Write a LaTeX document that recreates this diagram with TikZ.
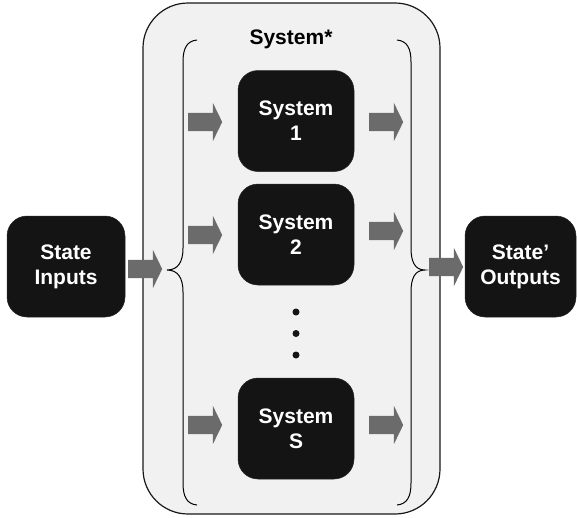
\documentclass[tikz,border=0pt]{standalone}
\usepackage{fontspec}
\setmainfont{Liberation Sans}
\usetikzlibrary{shapes.arrows}
\definecolor{panel}{HTML}{F1F1F1}
\definecolor{boxfill}{HTML}{141414}
\definecolor{arrowgray}{HTML}{6B6B6B}
\tikzset{
  blk/.style={fill=boxfill, draw=black!85, line width=0.5pt, rounded corners=20pt,
    minimum width=116pt, minimum height=101pt, text=white, align=center, inner sep=0pt,
    font=\bfseries\fontsize{21}{25}\selectfont},
  blockarrow/.style={single arrow, fill=arrowgray, draw=none, minimum height=34pt,
    inner sep=0pt, inner ysep=9pt, single arrow head extend=10pt,
    single arrow tip angle=128, anchor=tail},
  bracepath/.style={line width=1pt, black},
  dotmark/.style={circle, fill=boxfill, inner sep=0pt, minimum size=7pt},
}
\begin{document}
\begin{tikzpicture}[x=1pt, y=-1pt]
  \useasboundingbox (0,0) rectangle (577,517);

  % outer container
  \node[draw=black!90, line width=1.2pt, fill=panel, rounded corners=45pt,
        minimum width=297pt, minimum height=511pt, inner sep=0pt] (sys) at (291.5,258.5) {};
  \node[font=\bfseries\fontsize{21}{25}\selectfont] (syslabel) at (291,39) {System*};

  % braces
  \draw[bracepath] (197,40) .. controls (187,41) and (183,48) .. (183,62)
    -- (183,248) .. controls (183,262) and (178,270) .. (167,270)
    .. controls (178,270) and (183,278) .. (183,292)
    -- (183,483) .. controls (183,497) and (187,504) .. (197,505);
  \draw[bracepath] (397,40) .. controls (407,41) and (411,48) .. (411,62)
    -- (411,248) .. controls (411,262) and (415,270) .. (425,270)
    .. controls (415,270) and (411,278) .. (411,292)
    -- (411,483) .. controls (411,497) and (407,504) .. (397,505);

  % outer state boxes
  \node[blk, minimum width=118pt] (in) at (66,266.5) {State\\Inputs};
  \node[blk, minimum width=111pt] (out) at (520.5,266.5) {State'\\Outputs};

  % subsystems
  \node[blk] (s1) at (296,121) {System\\1};
  \node[blk] (s2) at (296,234.5) {System\\2};
  \node[blk] (ss) at (296,428.5) {System\\S};

  % ellipsis
  \node[dotmark] (d1) at (296,312) {};
  \node[dotmark] (d2) at (296,333.5) {};
  \node[dotmark] (d3) at (296,355) {};

  % block arrows
  \node[blockarrow] (ain) at (128,269) {};
  \node[blockarrow] (aout) at (429,267) {};
  \node[blockarrow] (a1l) at (188,122) {};
  \node[blockarrow] (a1r) at (369,122) {};
  \node[blockarrow] (a2l) at (188,235) {};
  \node[blockarrow] (a2r) at (369,231) {};
  \node[blockarrow] (asl) at (188,425) {};
  \node[blockarrow] (asr) at (369,425) {};
\end{tikzpicture}
\end{document}
